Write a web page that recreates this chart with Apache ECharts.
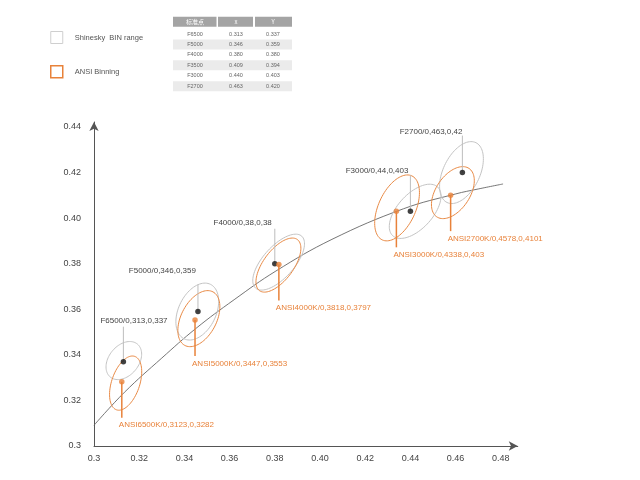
<!DOCTYPE html>
<html>
<head>
<meta charset="utf-8">
<script src="https://cdn.jsdelivr.net/npm/echarts@6/dist/echarts.min.js"></script>
<style>html,body{margin:0;padding:0;background:#fff}#c{width:640px;height:480px}</style>
</head>
<body>
<div id="c"></div>
<script>
// ---- data ----
const xTickLabels = ['0.3','0.32','0.34','0.36','0.38','0.40','0.42','0.44','0.46','0.48'];
const yTickLabels = ['0.3','0.32','0.34','0.36','0.38','0.40','0.42','0.44'];

const fNames  = ['F6500','F5000','F4000','F3000','F2700'];
const fX      = [0.313, 0.346, 0.380, 0.440, 0.463];
const fY      = [0.337, 0.359, 0.380, 0.403, 0.420];
const fLabels = ['F6500/0,313,0,337','F5000/0,346,0,359','F4000/0,38,0,38','F3000/0,44,0,403','F2700/0,463,0,42'];

const ansiNames  = ['ANSI6500K','ANSI5000K','ANSI4000K','ANSI3000K','ANSI2700K'];
const ansiX      = [0.3123, 0.3447, 0.3818, 0.4338, 0.4578];
const ansiY      = [0.3282, 0.3553, 0.3797, 0.4030, 0.4101];
const ansiLabels = ['ANSI6500K/0,3123,0,3282','ANSI5000K/0,3447,0,3553','ANSI4000K/0,3818,0,3797','ANSI3000K/0,4338,0,403','ANSI2700K/0,4578,0,4101'];

// Shinesky BIN range ellipses: centre x, centre y, semi-major, semi-minor, angle (deg)
const gCx  = [0.3132, 0.3457, 0.3817, 0.4421, 0.4626];
const gCy  = [0.3375, 0.3590, 0.3807, 0.4030, 0.4200];
const gA   = [0.0094, 0.0133, 0.0153, 0.0146, 0.0146];
const gB   = [0.0066, 0.0083, 0.0069, 0.0077, 0.0081];
const gAng = [50, 64, 48, 47, 64];

// ANSI binning ellipses
const oCx  = [0.3140, 0.3464, 0.3816, 0.4341, 0.4588];
const oCy  = [0.3276, 0.3559, 0.3794, 0.4045, 0.4112];
const oA   = [0.0124, 0.0133, 0.0140, 0.0155, 0.0128];
const oB   = [0.0062, 0.0078, 0.0066, 0.0082, 0.0075];
const oAng = [71, 62, 53, 65, 56];

// black-body locus
const locusX = [0.300, 0.3135, 0.330, 0.3451, 0.362, 0.3805, 0.4053, 0.4369, 0.4599, 0.4700, 0.4810];
const locusY = [0.3091, 0.3236, 0.3386, 0.3516, 0.3642, 0.3768, 0.3907, 0.4041, 0.4106, 0.4128, 0.4150];

// table
const tableHeader = ['标准点','x','Y'];
const tableNames  = ['F6500','F5000','F4000','F3500','F3000','F2700'];
const tableX      = ['0.313','0.346','0.380','0.409','0.440','0.463'];
const tableY      = ['0.337','0.359','0.380','0.394','0.403','0.420'];

// ---- styles ----
const ORANGE = '#e8823a';
const GRAY_E = '#bdbdbd';
const FONT = '"Liberation Sans",Arial,sans-serif';
const grayLeaderLen = [35, 27, 35, 36, 37];
const grayLabelAlign = ['left','right','right','right','right'];
const grayLabelDx = [-23, -2, -3, -2, 0];

function ellipseRenderer(color, width) {
  return function (params, api) {
    const cx = api.value(0), cy = api.value(1), a = api.value(2), b = api.value(3);
    const ang = api.value(4) * Math.PI / 180;
    const pts = [];
    for (let k = 0; k < 90; k++) {
      const t = k / 90 * 2 * Math.PI;
      const dx = a * Math.cos(t), dy = b * Math.sin(t);
      pts.push(api.coord([cx + dx * Math.cos(ang) - dy * Math.sin(ang),
                          cy + dx * Math.sin(ang) + dy * Math.cos(ang)]));
    }
    return { type: 'polygon', shape: { points: pts }, style: { fill: 'none', stroke: color, lineWidth: width } };
  };
}

function grayLeader(params, api) {
  const i = params.dataIndex;
  const p = api.coord([api.value(0), api.value(1)]);
  return {
    type: 'group',
    children: [
      { type: 'line', shape: { x1: p[0], y1: p[1], x2: p[0], y2: p[1] - grayLeaderLen[i] },
        style: { stroke: GRAY_E, lineWidth: 1 } },
      { type: 'text', style: { text: fLabels[i], x: p[0] + grayLabelDx[i], y: p[1] - 41,
          textAlign: grayLabelAlign[i], textVerticalAlign: 'middle', align: grayLabelAlign[i], verticalAlign: 'middle',
          fill: '#444', font: '8px ' + FONT } }
    ]
  };
}
function orangeLeader(params, api) {
  const i = params.dataIndex;
  const p = api.coord([api.value(0), api.value(1)]);
  return {
    type: 'group',
    children: [
      { type: 'line', shape: { x1: p[0], y1: p[1], x2: p[0], y2: p[1] + 36 },
        style: { stroke: ORANGE, lineWidth: 1.5 } },
      { type: 'text', style: { text: ansiLabels[i], x: p[0] - 3, y: p[1] + 43.5,
          textAlign: 'left', textVerticalAlign: 'middle', align: 'left', verticalAlign: 'middle',
          fill: ORANGE, font: '8px ' + FONT } }
    ]
  };
}

function tickFormatter(labels) {
  return function (v) {
    const i = Math.round((v - 0.3) / 0.02);
    if (Math.abs(v - (0.3 + i * 0.02)) > 1e-6) return '';
    return labels[i] !== undefined ? labels[i] : '';
  };
}

// table graphics
const tLeft = 173, tRight = 292, colX = [195, 236, 273], colL = [173, 218, 255], colR = [216.5, 253, 292];
const headTop = 16.7, headH = 10, rowY0 = 34, rowPitch = 10.45;
const graphic = [];
tableHeader.forEach((h, c) => {
  graphic.push({ type: 'rect', shape: { x: colL[c], y: headTop, width: colR[c] - colL[c], height: headH },
    style: { fill: '#a4a4a4' }, silent: true });
  graphic.push({ type: 'text', style: { text: h, x: colX[c], y: headTop + headH / 2, textAlign: 'center', textVerticalAlign: 'middle',
    align: 'center', verticalAlign: 'middle', fill: '#fff', font: '6px "Noto Sans CJK SC",sans-serif' }, silent: true });
});
tableNames.forEach((n, r) => {
  const cy = rowY0 + r * rowPitch;
  if (r % 2 === 1) graphic.push({ type: 'rect', shape: { x: tLeft, y: cy - 5, width: tRight - tLeft, height: 10 },
    style: { fill: '#ebebeb' }, silent: true });
  [n, tableX[r], tableY[r]].forEach((t, c) => {
    graphic.push({ type: 'text', style: { text: t, x: colX[c], y: cy, textAlign: 'center', textVerticalAlign: 'middle',
      align: 'center', verticalAlign: 'middle', fill: '#666', font: '5.5px ' + FONT }, silent: true });
  });
});

const chart = echarts.init(document.getElementById('c'), null, { renderer: 'canvas' });
chart.setOption({
  animation: false,
  backgroundColor: '#fff',
  graphic: graphic,
  legend: {
    orient: 'vertical', left: 50, top: 31, padding: 0, itemWidth: 12, itemHeight: 12, itemGap: 21,
    selectedMode: false,
    textStyle: { fontSize: 7.5, color: '#555', fontFamily: FONT, padding: [0, 0, 0, 7] },
    data: [
      { name: 'Shinesky  BIN range', icon: 'rect', itemStyle: { color: '#fff', borderColor: '#cfcfcf', borderWidth: 1 } },
      { name: 'ANSI Binning', icon: 'rect', itemStyle: { color: '#fff', borderColor: ORANGE, borderWidth: 1.5 } }
    ]
  },
  grid: { left: 94, right: 122.25, top: 122, bottom: 34, containLabel: false },
  xAxis: {
    type: 'value', min: 0.3, max: 0.4875, interval: 0.02,
    axisLine: { show: true, lineStyle: { color: '#555', width: 1 }, symbol: ['none', 'arrow'], symbolSize: [7, 9] },
    axisTick: { show: false }, splitLine: { show: false },
    axisLabel: { color: '#444', fontSize: 9, fontFamily: FONT, margin: 8, showMaxLabel: false, formatter: tickFormatter(xTickLabels) }
  },
  yAxis: {
    type: 'value', min: 0.3, max: 0.4422, interval: 0.02,
    axisLine: { show: true, lineStyle: { color: '#555', width: 1 }, symbol: ['none', 'arrow'], symbolSize: [7, 9] },
    axisTick: { show: false }, splitLine: { show: false },
    axisLabel: { color: '#444', fontSize: 9, fontFamily: FONT, margin: 13, showMaxLabel: false, formatter: tickFormatter(yTickLabels) }
  },
  series: [
    { type: 'line', name: 'locus', data: locusX.map((x, i) => [x, locusY[i]]), smooth: 0.4, symbol: 'none',
      lineStyle: { color: '#666', width: 0.9 }, z: 1, silent: true },
    { type: 'custom', name: 'Shinesky  BIN range', renderItem: ellipseRenderer('#c4c4c4', 1),
      data: gCx.map((x, i) => [x, gCy[i], gA[i], gB[i], gAng[i]]), encode: { x: 0, y: 1 }, z: 2, silent: true },
    { type: 'custom', name: 'ANSI Binning', renderItem: ellipseRenderer('#e98a45', 1),
      data: oCx.map((x, i) => [x, oCy[i], oA[i], oB[i], oAng[i]]), encode: { x: 0, y: 1 }, z: 3, silent: true },
    { type: 'custom', name: 'fLeaders', renderItem: grayLeader, data: fX.map((x, i) => [x, fY[i]]),
      encode: { x: 0, y: 1 }, z: 4, silent: true },
    { type: 'custom', name: 'ansiLeaders', renderItem: orangeLeader, data: ansiX.map((x, i) => [x, ansiY[i]]),
      encode: { x: 0, y: 1 }, z: 4, silent: true },
    { type: 'scatter', name: 'F points', data: fX.map((x, i) => ({ name: fNames[i], value: [x, fY[i]] })),
      symbolSize: 5.5, itemStyle: { color: '#111' }, z: 6, silent: true },
    { type: 'scatter', name: 'ANSI points', data: ansiX.map((x, i) => ({ name: ansiNames[i], value: [x, ansiY[i]] })),
      symbolSize: 5.5, itemStyle: { color: ORANGE }, z: 6, silent: true }
  ]
});
</script>
</body>
</html>
